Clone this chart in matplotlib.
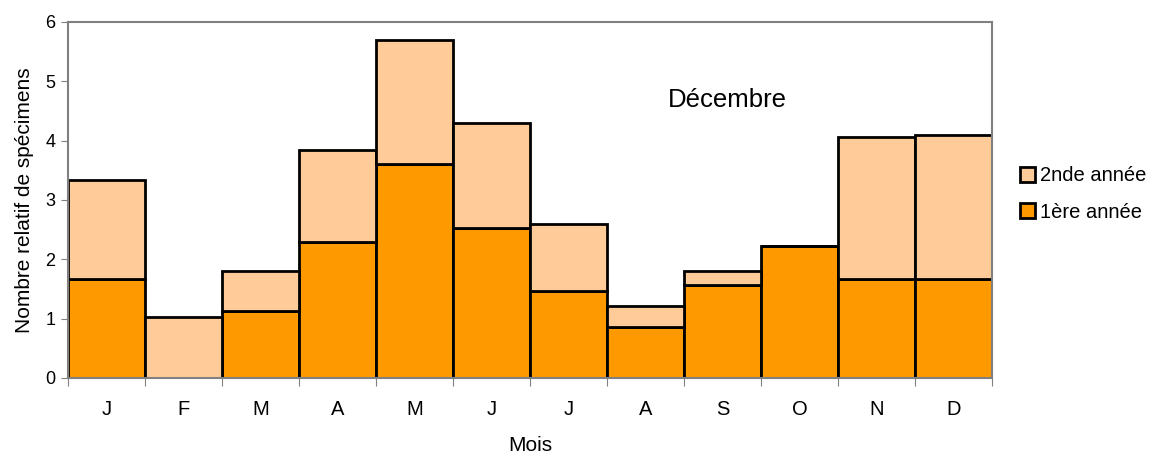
import numpy as np
import matplotlib.pyplot as plt

plt.rcParams['font.family'] = ['Liberation Sans', 'DejaVu Sans']

mois = ['J', 'F', 'M', 'A', 'M', 'J', 'J', 'A', 'S', 'O', 'N', 'D']
annee1 = [1.67, 0.0, 1.13, 2.30, 3.61, 2.53, 1.47, 0.86, 1.57, 2.23, 1.67, 1.67]
total = [3.34, 1.03, 1.80, 3.84, 5.70, 4.30, 2.60, 1.21, 1.80, 2.23, 4.07, 4.10]
annee2 = [t - a for t, a in zip(total, annee1)]

fig = plt.figure(figsize=(11.55, 4.57), dpi=100, facecolor='white')
ax = fig.add_axes([68/1155, 79/457, 924/1155, 356/457])

x = np.arange(len(mois))
b1 = ax.bar(x, annee1, 1.0, color='#ff9900', edgecolor='black', linewidth=2)
b2 = ax.bar(x, annee2, 1.0, bottom=annee1, color='#ffcc99', edgecolor='black', linewidth=2)

ax.set_xlim(-0.5, len(mois) - 0.5)
ax.set_ylim(0, 6)
ax.set_yticks(range(7))
# ticks between the months, labels centred on each month
ax.set_xticks(np.arange(len(mois) + 1) - 0.5)
ax.set_xticklabels([])
ax.set_xticks(x, minor=True)
ax.set_xticklabels(mois, minor=True)
ax.tick_params(axis='x', which='minor', length=0, pad=16, labelsize=14.5)
ax.tick_params(axis='x', which='major', length=6, color='#808080')
ax.tick_params(axis='y', length=5, color='#808080', labelsize=13, pad=4)
for s in ax.spines.values():
    s.set_color('#808080')
    s.set_linewidth(1.5)

ax.set_xlabel('Mois', fontsize=15, labelpad=12)
ax.set_ylabel('Nombre relatif de spécimens', fontsize=15, labelpad=8)
ax.text(0.649, 0.78, 'Décembre', fontsize=18.5, va='center', ha='left',
        transform=ax.transAxes)

fig.legend((b2[0], b1[0]), ('2nde année', '1ère année'), loc='center left',
           bbox_to_anchor=(1002/1155, (457-194)/457), frameon=False,
           fontsize=14.5, handlelength=0.75, handleheight=0.75, handletextpad=0.25,
           labelspacing=0.85)

plt.savefig('out.png', dpi=100)
